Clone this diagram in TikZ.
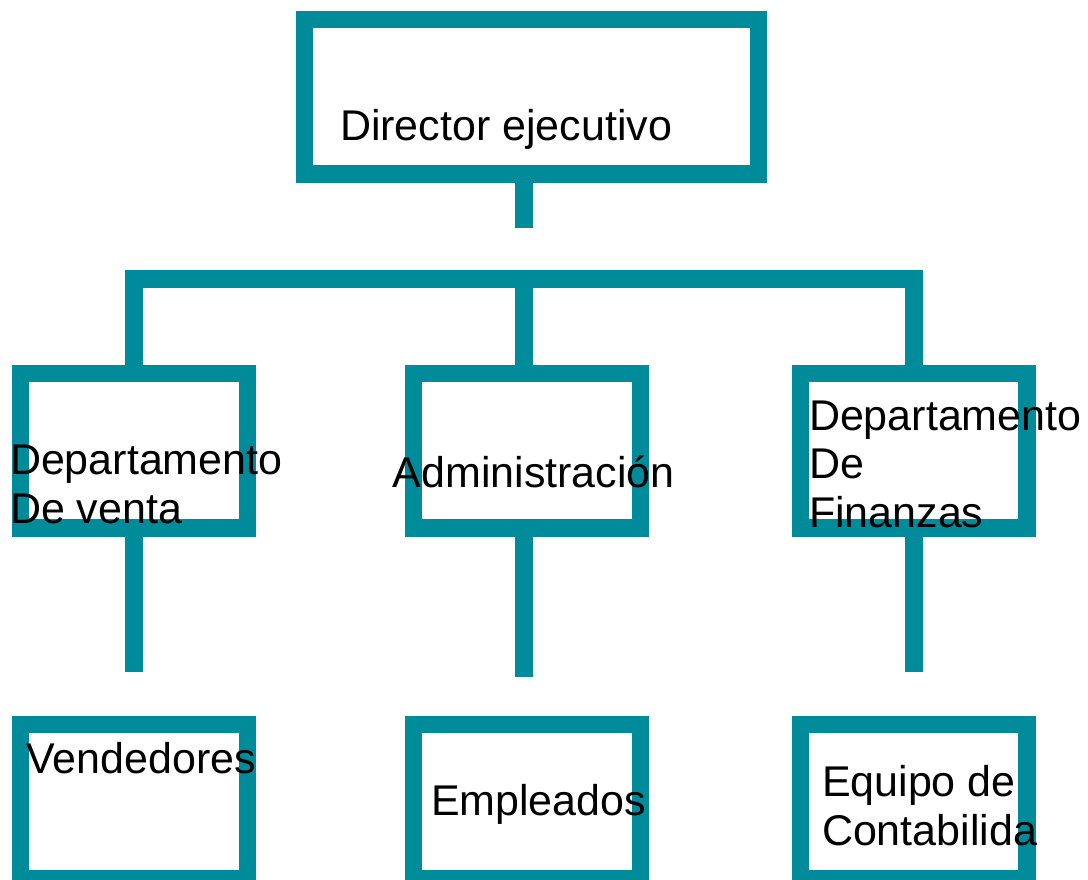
\documentclass[tikz,border=0pt]{standalone}
\usepackage{fontspec}
\setmainfont{Liberation Sans}
\definecolor{teal1}{RGB}{0,139,155}
\begin{document}
\begin{tikzpicture}[x=1pt,y=-1pt,
  box/.style={draw=teal1,line width=17.5pt,rectangle,inner sep=0pt,outer sep=0pt,minimum width=227pt,minimum height=154.5pt},
  link/.style={draw=teal1,line width=17.5pt,line join=miter,line cap=butt},
  lbl/.style={anchor=base west,inner sep=0pt,outer sep=0pt,align=left,font=\fontsize{43}{48.5}\selectfont,text=black}]
\useasboundingbox (0,0) rectangle (1088,879);
% boxes
\node[box,minimum width=454.4pt,minimum height=154.3pt] (ceo) at (531.5,96.85) {};
\node[box] (sales) at (133.8,450.5) {};
\node[box] (adm) at (527,450.5) {};
\node[box,minimum width=226.5pt] (fin) at (913.75,450.5) {};
\node[box] (vend) at (133.8,801.5) {};
\node[box] (emp) at (527,801.5) {};
\node[box,minimum width=226.5pt] (cont) at (913.75,801.5) {};
% connectors
\coordinate (trunk) at (523.8,279);
\coordinate (ceoEnd) at (523.8,227.7);
\coordinate (salesEnd) at (134,671.7);
\coordinate (admEnd) at (523.8,676.7);
\coordinate (finEnd) at (914,671.7);
\draw[link] (ceo.south -| ceoEnd) -- (ceoEnd);
\draw[link] (sales.north -| salesEnd) |- (trunk) -| (fin.north -| finEnd);
\draw[link] (trunk) -- (adm.north -| trunk);
\draw[link] (sales.south -| salesEnd) -- (salesEnd);
\draw[link] (adm.south -| admEnd) -- (admEnd);
\draw[link] (fin.south -| finEnd) -- (finEnd);
% labels (base anchor = baseline of last line)
\node[lbl] (tceo) at (340,140) {Director ejecutivo};
\node[lbl] (tsales) at (10,523.3) {Departamento\\De venta};
\node[lbl] (tadm) at (392.7,487.3) {Administración};
\node[lbl] (tfin) at (809,527.3) {Departamento\\De\\Finanzas};
\node[lbl] (tvend) at (26.5,773.3) {Vendedores};
\node[lbl] (temp) at (431,815) {Empleados};
\node[lbl] (tcont) at (822,845) {Equipo de\\Contabilida};
\end{tikzpicture}
\end{document}
